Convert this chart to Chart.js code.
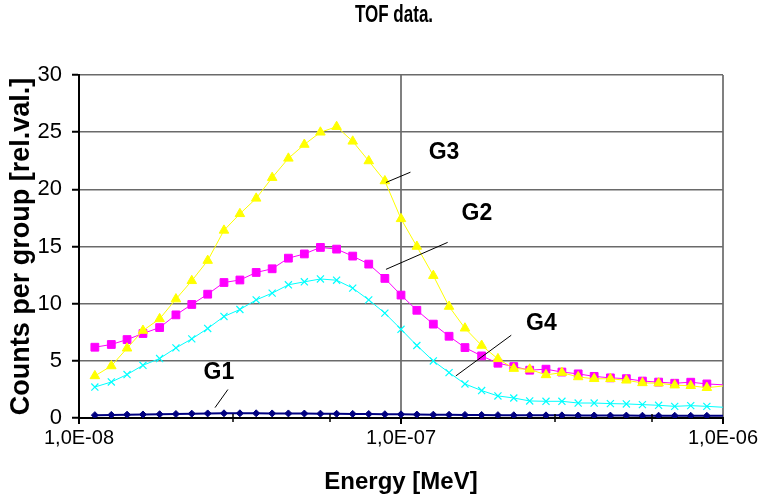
<!DOCTYPE html>
<html><head><meta charset="utf-8">
<script src="https://cdn.jsdelivr.net/npm/chart.js@4.4.0/dist/chart.umd.min.js"></script>
<style>html,body{margin:0;padding:0;background:#fff}</style>
</head><body>
<canvas id="c" width="766" height="499"></canvas>
<script>
// ---- data ----
const energy = [1.12e-8,1.26e-8,1.41e-8,1.58e-8,1.78e-8,2.00e-8,2.24e-8,2.51e-8,2.82e-8,3.16e-8,
  3.55e-8,3.98e-8,4.47e-8,5.01e-8,5.62e-8,6.31e-8,7.08e-8,7.94e-8,8.91e-8,1.00e-7,
  1.12e-7,1.26e-7,1.41e-7,1.58e-7,1.78e-7,2.00e-7,2.24e-7,2.51e-7,2.82e-7,3.16e-7,
  3.55e-7,3.98e-7,4.47e-7,5.01e-7,5.62e-7,6.31e-7,7.08e-7,7.94e-7,8.91e-7,1.00e-6];
const g1 = [0.25,0.27,0.29,0.31,0.33,0.35,0.38,0.40,0.41,0.41,0.41,0.40,0.40,0.39,0.38,0.37,0.36,0.35,0.33,0.32,
  0.30,0.29,0.28,0.27,0.26,0.25,0.24,0.24,0.23,0.23,0.22,0.22,0.21,0.21,0.20,0.20,0.20,0.19,0.19,0.19];
const g2 = [6.19,6.43,6.86,7.39,7.91,9.02,9.93,10.83,11.85,12.07,12.73,13.05,13.98,14.35,14.92,14.77,14.16,13.46,12.21,10.75,
  9.42,8.21,7.15,6.16,5.43,4.79,4.50,4.18,4.27,4.02,3.86,3.64,3.51,3.44,3.23,3.14,3.04,3.13,2.98,2.90];
const g3 = [3.68,4.55,6.10,7.65,8.67,10.40,12.00,13.77,16.41,17.86,19.21,21.02,22.71,23.92,24.99,25.48,24.20,22.48,20.73,17.42,
  15.00,12.45,9.75,7.85,6.34,5.17,4.32,4.26,3.77,3.97,3.59,3.43,3.43,3.30,3.07,3.05,2.87,2.82,2.65,2.80];
const g4 = [2.71,3.15,3.80,4.61,5.20,6.13,6.92,7.83,8.88,9.49,10.33,10.92,11.65,11.91,12.16,12.05,11.36,10.33,9.17,7.76,
  6.34,4.99,3.97,2.98,2.40,1.93,1.75,1.49,1.46,1.46,1.31,1.31,1.26,1.23,1.17,1.11,1.02,1.08,1.02,0.94];
const seriesNames = ['G1','G2','G3','G4'];
const xMajorTicks = [1e-8, 1e-7, 1e-6];
const xMinorTicks = [3e-8, 6e-8, 3e-7, 6e-7];
const yMin = 0, yMax = 30, yStep = 5;
const titleText = 'TOF data.';
const xTitle = 'Energy [MeV]';
const yTitle = 'Counts per group [rel.val.]';
// label callouts (in data coordinates)
const callouts = [
  {text:'G1', tx:2.72e-8, ty:3.96, x1:2.645e-8, y1:0.91, x2:2.90e-8, y2:2.49},
  {text:'G3', tx:1.36e-7, ty:23.2, x1:8.98e-8, y1:20.6, x2:1.07e-7, y2:21.5},
  {text:'G2', tx:1.72e-7, ty:17.9, x1:8.98e-8, y1:13.0, x2:1.396e-7, y2:15.36},
  {text:'G4', tx:2.73e-7, ty:8.27, x1:1.48e-7, y1:3.68, x2:2.20e-7, y2:7.24}
];

const pts = arr => energy.map((e,i)=>({x:e, y:arr[i]}));
const lastHidden = r => (ctx => ctx.dataIndex === energy.length-1 ? 0 : r);
const FONT = "'Liberation Sans', Arial, sans-serif";

const fmtE = v => {
  const e = Math.round(Math.log10(v));
  const s = e < 0 ? '-' : '+';
  const a = Math.abs(e);
  return '1,0E' + s + (a<10?'0':'') + a;
};

const overlay = {
  id:'overlay',
  afterDraw(chart){
    const c = chart.ctx, xs = chart.scales.x, ys = chart.scales.y, ca = chart.chartArea;
    c.save();
    // minor ticks crossing x axis
    c.strokeStyle = '#000'; c.lineWidth = 1.5;
    xMinorTicks.forEach(v=>{
      const px = Math.round(xs.getPixelForValue(v));
      c.beginPath(); c.moveTo(px, ca.bottom-4); c.lineTo(px, ca.bottom+4); c.stroke();
    });
    // callouts
    c.lineWidth = 1; c.strokeStyle = '#000';
    c.fillStyle = '#000';
    c.font = "bold 23px " + FONT;
    c.textAlign = 'center'; c.textBaseline = 'middle';
    callouts.forEach(o=>{
      c.beginPath();
      c.moveTo(xs.getPixelForValue(o.x1), ys.getPixelForValue(o.y1));
      c.lineTo(xs.getPixelForValue(o.x2), ys.getPixelForValue(o.y2));
      c.stroke();
      c.fillText(o.text, xs.getPixelForValue(o.tx), ys.getPixelForValue(o.ty));
    });
    // title (condensed horizontally like the original)
    c.font = "bold 23px " + FONT;
    c.translate((ca.left+ca.right)/2 - 7, 16);
    c.scale(0.74, 1);
    c.fillText(titleText, 0, 0);
    c.restore();
  }
};

new Chart(document.getElementById('c'), {
  type:'scatter',
  data:{ datasets:[
    {label:seriesNames[0], data:pts(g1), showLine:true, borderColor:'#000080', backgroundColor:'#000080',
      borderWidth:2, pointStyle:'rectRot', pointRadius:lastHidden(3.5), pointBorderWidth:1},
    {label:seriesNames[2], data:pts(g3), showLine:true, borderColor:'#FFFF00', backgroundColor:'#FFFF00',
      borderWidth:1, pointStyle:'triangle', pointRadius:lastHidden(5.5), pointBorderWidth:1},
    {label:seriesNames[1], data:pts(g2), showLine:true, borderColor:'#FF00FF', backgroundColor:'#FF00FF',
      borderWidth:1, pointStyle:'rect', pointRadius:lastHidden(5.5), pointBorderWidth:1},
    {label:seriesNames[3], data:pts(g4), showLine:true, borderColor:'#00FFFF', backgroundColor:'#00FFFF',
      borderWidth:1, pointStyle:'crossRot', pointRadius:lastHidden(5), pointBorderWidth:1.2}
  ]},
  options:{
    responsive:false, animation:false, devicePixelRatio:1,
    layout:{padding:{top:75, right:43, left:0, bottom:0}},
    plugins:{legend:{display:false}, tooltip:{enabled:false}, title:{display:false}},
    elements:{line:{tension:0}},
    scales:{
      x:{type:'logarithmic', min:1e-8, max:1e-6,
        afterBuildTicks: s => { s.ticks = xMajorTicks.map(v=>({value:v})); },
        afterFit: s => { s.height = 81; },
        ticks:{callback:v=>fmtE(v), color:'#000', font:{family:FONT, size:20}, padding:2, maxRotation:0, autoSkip:false},
        grid:{color: ctx => (ctx.tick && ctx.tick.value > 1e-8) ? '#808080' : 'rgba(0,0,0,0)', lineWidth:2,
              tickColor:'#000', tickLength:6, tickWidth:2},
        border:{display:true, color:'#000', width:2},
        title:{display:true, text:xTitle, color:'#000', font:{family:FONT, size:24, weight:'bold'}, padding:{top:0,bottom:2}}
      },
      y:{min:yMin, max:yMax,
        afterFit: s => { s.width = 79; },
        ticks:{stepSize:yStep, color:'#000', font:{family:FONT, size:22}, padding:10},
        grid:{color: ctx => (ctx.tick && ctx.tick.value > 0) ? '#6a6a6a' : 'rgba(0,0,0,0)', lineWidth:1.5,
              tickColor:'#000', tickLength:7, tickWidth:2},
        border:{display:true, color:'#000', width:2},
        title:{display:true, text:yTitle, color:'#000', font:{family:FONT, size:27, weight:'bold'}, padding:{top:5,bottom:0}}
      }
    }
  },
  plugins:[overlay]
});
</script>
</body></html>
